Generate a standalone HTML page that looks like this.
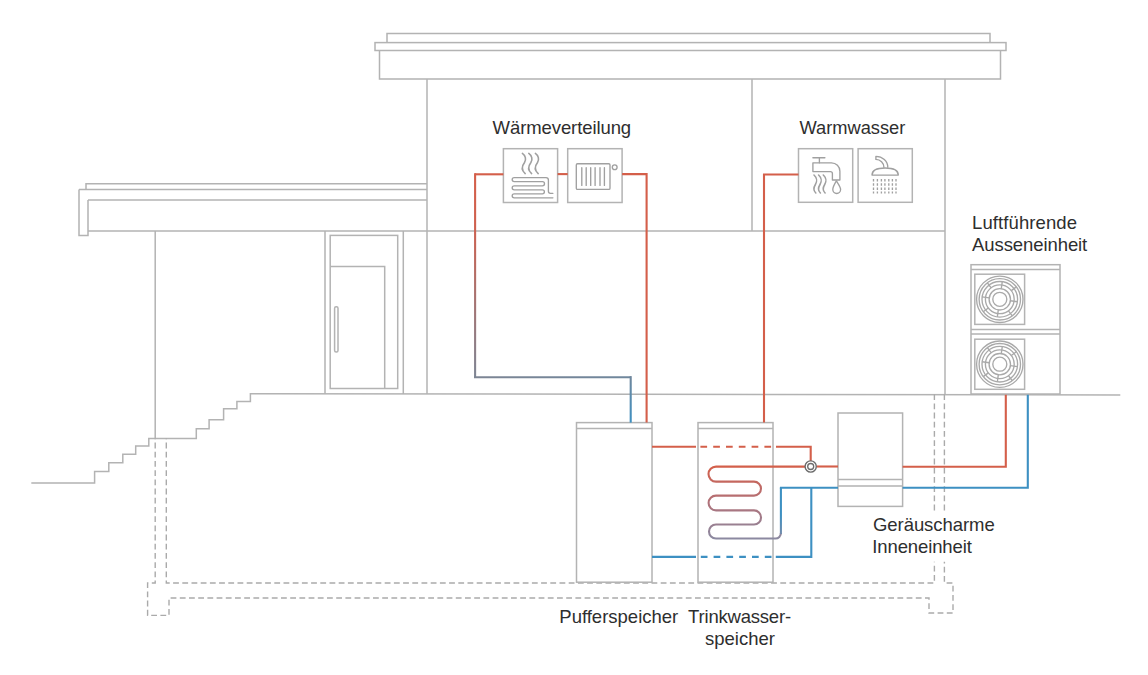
<!DOCTYPE html>
<html>
<head>
<meta charset="utf-8">
<style>
html,body{margin:0;padding:0;background:#fff;width:1148px;height:675px;overflow:hidden;}
svg{display:block;}
.g{fill:none;stroke:#b3b3b3;stroke-width:1.5;}
.d{fill:none;stroke:#aaaaaa;stroke-width:1.4;stroke-dasharray:5.8 3.4;}
.t{font-family:"Liberation Sans",sans-serif;font-size:18.5px;fill:#2e2e2e;}
.r{fill:none;stroke:#d45f4a;stroke-width:2.1;}
.b{fill:none;stroke:#3d90c2;stroke-width:2.1;}
</style>
</head>
<body>
<svg width="1148" height="675" viewBox="0 0 1148 675">
<!-- ===== HOUSE STRUCTURE ===== -->
<g class="g">
  <!-- main roof -->
  <path d="M387,42.6 V33.4 H990 V42.6"/>
  <rect x="375" y="42.6" width="631" height="7.9"/>
  <path d="M379.5,50.5 V79 H1000.5 V50.5"/>
  <!-- walls -->
  <path d="M427,79 V394"/>
  <path d="M752,79 V231"/>
  <path d="M945,79 V394"/>
  <path d="M88,231 H945"/>
  <!-- left roof -->
  <path d="M86,189.5 V183.7 H427"/>
  <path d="M79,189.5 H427"/>
  <path d="M79,189.5 V235.5 H88 V200"/>
  <path d="M88,200 H427"/>
  <path d="M155.2,231 V438.4"/>
  <!-- door -->
  <path d="M325,231 V394 M403.3,231 V394"/>
  <rect x="330.2" y="235.4" width="67.5" height="153.1"/>
  <path d="M330.2,266.5 H384.7 V388.5"/>
  <rect x="334.6" y="306.7" width="3.4" height="45.4" rx="1.5"/>
  <!-- ground & stairs -->
  <path d="M31.3,482.9 H94.6 V471.6 H108.8 V462.7 H122.8 V454.2 H135.7 V446 H148.8 V438.4 H196.3 V428.7 H209.1 V419.7 H223.6 V408.8 H236.9 V401.4 H250.4 V393.7 L1120.3,394.9"/>
</g>
<!-- foundation dashed -->
<g class="d">
  <path stroke-dashoffset="5" d="M155.2,438.4 V583 H147.6 V615.4 H169 V598 H929 V613 H953 V583 H944.4 V561.7"/>
  <path d="M944.4,510.4 V394"/>
  <path d="M166.3,438.4 V583 H934.4 V561.7" stroke-dashoffset="5"/>
  <path d="M934.4,510.4 V394"/>
</g>
<defs>
  <linearGradient id="gB" gradientUnits="userSpaceOnUse" x1="0" y1="174" x2="0" y2="377">
    <stop offset="0" stop-color="#d45f4a"/><stop offset="0.25" stop-color="#cf604e"/><stop offset="1" stop-color="#7d8594"/>
  </linearGradient>
  <linearGradient id="gC" gradientUnits="userSpaceOnUse" x1="475" y1="0" x2="631" y2="0">
    <stop offset="0" stop-color="#7d8594"/><stop offset="1" stop-color="#6f879d"/>
  </linearGradient>
  <linearGradient id="gD" gradientUnits="userSpaceOnUse" x1="0" y1="377" x2="0" y2="423">
    <stop offset="0" stop-color="#6f879d"/><stop offset="1" stop-color="#3d90c2"/>
  </linearGradient>
  <linearGradient id="gCoil" gradientUnits="userSpaceOnUse" x1="0" y1="466" x2="0" y2="540">
    <stop offset="0" stop-color="#d45f4a"/><stop offset="0.5" stop-color="#b0727a"/><stop offset="1" stop-color="#8a8aa2"/>
  </linearGradient>
  <linearGradient id="gV" gradientUnits="userSpaceOnUse" x1="0" y1="538" x2="0" y2="515">
    <stop offset="0" stop-color="#7d8aa6"/><stop offset="1" stop-color="#3d90c2"/>
  </linearGradient>
</defs>
<!-- ===== TANKS & UNITS ===== -->
<g class="g">
  <rect x="576.5" y="422.6" width="75.5" height="159.6"/>
  <path d="M576.5,428.6 H652"/>
  <rect x="698" y="422.6" width="75" height="159.6"/>
  <path d="M698,428.6 H773"/>
  <!-- indoor unit -->
  <rect x="838" y="413" width="64.6" height="93.4"/>
  <path d="M838,479.6 H902.6 M838,486 H902.6"/>
  <!-- icon boxes -->
  <rect x="503.4" y="148.7" width="54.2" height="53.8"/>
  <rect x="567.7" y="148.7" width="54.4" height="53.8"/>
  <rect x="798.5" y="148.7" width="54.2" height="53.6"/>
  <rect x="858.1" y="148.7" width="54.2" height="53.6"/>
</g>
<!-- ===== PIPES ===== -->
<g>
  <path class="r" d="M503.4,174.3 H475.1"/>
  <path d="M475.1,173.2 V377.2" fill="none" stroke="url(#gB)" stroke-width="2.1"/>
  <path d="M474,377.2 H630.7" fill="none" stroke="url(#gC)" stroke-width="2.1"/>
  <path d="M630.7,376.1 V422.6" fill="none" stroke="url(#gD)" stroke-width="2.1"/>
  <path class="r" d="M557.6,174.1 H567.7"/>
  <path class="r" d="M622.1,174.1 H646.6 V422.6"/>
  <path class="r" d="M798.5,174.5 H764 V422.6"/>
  <!-- hot from buffer to valve -->
  <path class="r" d="M652,446.8 H696"/>
  <path class="r" d="M700.4,446.8 H776" stroke-dasharray="6.7 6.1"/>
  <path class="r" d="M776,446.8 H810.7 V461"/>
  <!-- coil -->
  <path d="M805,466.6 H716 A7.4,7.4 0 0 0 716,481.6 H754 A7,7 0 0 1 754,495.6 H716 A7.4,7.4 0 0 0 716,510.4 H754 A7,7 0 0 1 754,524.5 H716 A7,7 0 0 0 716,538.5 H775.5 A5.4,5.4 0 0 0 780.9,533.1" fill="none" stroke="url(#gCoil)" stroke-width="2.1"/>
  <path d="M780.9,534 V487.7" fill="none" stroke="url(#gV)" stroke-width="2.1"/>
  <path class="b" d="M779.9,487.7 H838"/>
  <!-- valve to indoor unit -->
  <path class="r" d="M816.7,466.5 H838"/>
  <circle cx="810.7" cy="466.5" r="5.6" fill="#fff" stroke="#6b6b6b" stroke-width="1.4"/>
  <circle cx="810.7" cy="466.5" r="3" fill="none" stroke="#6b6b6b" stroke-width="1.3"/>
  <!-- cold -->
  <path class="b" d="M811.3,487.7 V556.9 H775.8"/>
  <path class="b" d="M771.5,556.9 H698" stroke-dasharray="6.7 6.1"/>
  <path class="b" d="M696,556.9 H652"/>
  <!-- to outdoor -->
  <path class="r" d="M902.6,466.8 H1005.8 V394"/>
  <path class="b" d="M902.6,487.7 H1027.8 V394"/>
</g>
<!-- ===== ICONS ===== -->
<g fill="none" stroke="#a0a0a0" stroke-width="1.35" stroke-linecap="round" stroke-linejoin="round">
  <!-- floor heating -->
  <path id="wv" stroke-width="1.6" d="M522.4,153.4 C525.5,155.5 526.5,159.5 524.5,162.5 C521.5,166.5 521,170 525.2,173.6"/>
  <use href="#wv" x="6.4"/>
  <use href="#wv" x="13"/>
  <path d="M552.9,197.8 H514.2 A2,2 0 0 1 514.2,193.8 H542.4 A2,2 0 0 0 542.4,189.8 H514.2 A2,2 0 0 1 514.2,185.8 H542.4 A2,2 0 0 0 542.4,181.6 H514.2 A2,2 0 0 1 514.2,177.6 H546 Q548.4,177.6 548.4,180 V191.3 Q548.4,193.3 550.4,193.3 H552.9"/>
  <!-- radiator -->
  <rect x="576.3" y="163.7" width="33.7" height="25.7" rx="1.2"/>
  <path d="M581.8,167.7 V185.4 M586.2,167.7 V185.4 M590.7,167.7 V185.4 M595.1,167.7 V185.4 M600,167.7 V185.4 M604.4,167.7 V185.4"/>
  <circle cx="614.7" cy="167.2" r="2.4"/>
  <!-- tap -->
  <path d="M812.9,157.7 H824.9 M819.4,157.7 V162.8"/>
  <path d="M812.9,162.8 H831.5 A8.4,8.4 0 0 1 839.9,171.2 V180 H832.4 V173.6 A2,2 0 0 0 830.4,171.6 H812.9 Z"/>
  <path d="M836.4,180.9 C834.5,184 832.8,186.8 832.8,189.6 A3.9,3.9 0 0 0 840.6,189.6 C840.6,186.8 838.3,184 836.4,180.9 Z"/>
  <path id="wv2" stroke-width="1.6" d="M814,175 C816.8,177.5 817.3,181.5 815.4,184.5 C813.2,188 813.2,190.5 815.8,193"/>
  <use href="#wv2" x="4.6"/>
  <use href="#wv2" x="9.3"/>
  <!-- shower -->
  <path d="M875.9,156.4 V159.4 A8,7.9 0 0 1 883.9,167.3 M875.9,156.4 A11.9,10.9 0 0 1 887.8,167.3"/>
  <path d="M872,175.1 C872,170.2 877,168 885.1,168 C893.2,168 898.3,170.2 898.3,175.1 Z"/>
  <path d="M873.5,179 V193.4 M877.4,179 V193.4 M881.4,179 V193.4 M884.9,179 V193.4 M888.8,179 V193.4 M892.4,179 V193.4 M896,179 V193.4" stroke-dasharray="2.6 1.6" stroke-linecap="butt"/>
</g>
<!-- ===== OUTDOOR UNITS ===== -->
<g class="g">
  <rect x="971" y="264.7" width="89" height="129.3"/>
  <path d="M971,269.5 H1060 M971,329.6 H1060 M971,334 H1060"/>
  <rect x="974.8" y="274.2" width="49.8" height="50.2"/>
  <rect x="974.8" y="339.2" width="49.8" height="50.1"/>
</g>
<g fill="none" stroke="#a9a9a9" stroke-width="1.35">
  <g id="fan">
    <circle cx="999.8" cy="299.3" r="23.2"/>
    <circle cx="999.8" cy="299.3" r="20.7"/>
    <circle cx="999.8" cy="299.3" r="17.8"/>
    <circle cx="999.8" cy="299.3" r="14.4"/>
    <circle cx="999.8" cy="299.3" r="10.7"/>
    <circle cx="999.8" cy="299.3" r="7"/>
    <path d="M1010.40,300.79 L1017.43,301.78 M998.31,309.90 L997.32,316.93 M989.20,297.81 L982.17,296.82 M1001.29,288.70 L1002.28,281.67 M1008.47,310.80 L1012.26,315.83 M988.30,307.97 L983.27,311.76 M991.13,287.80 L987.34,282.77 M1011.30,290.63 L1016.33,286.84"/>
  </g>
  <use href="#fan" y="64.9"/>
</g>
<!-- ===== TEXT ===== -->
<text class="t" x="492.6" y="134" letter-spacing="-0.09">Wärmeverteilung</text>
<text class="t" x="799.4" y="134" style="font-size:18.3px">Warmwasser</text>
<text class="t" x="972" y="228.9" letter-spacing="0.1">Luftführende</text>
<text class="t" x="972" y="251" letter-spacing="-0.08">Ausseneinheit</text>
<text class="t" x="873" y="531" letter-spacing="-0.06">Geräuscharme</text>
<text class="t" x="872.3" y="553" letter-spacing="-0.12">Inneneinheit</text>
<text class="t" x="559.3" y="622.8">Pufferspeicher</text>
<text class="t" x="739.5" y="622.8" text-anchor="middle" letter-spacing="-0.2">Trinkwasser-</text>
<text class="t" x="740" y="645.2" text-anchor="middle">speicher</text>
</svg>
</body>
</html>
